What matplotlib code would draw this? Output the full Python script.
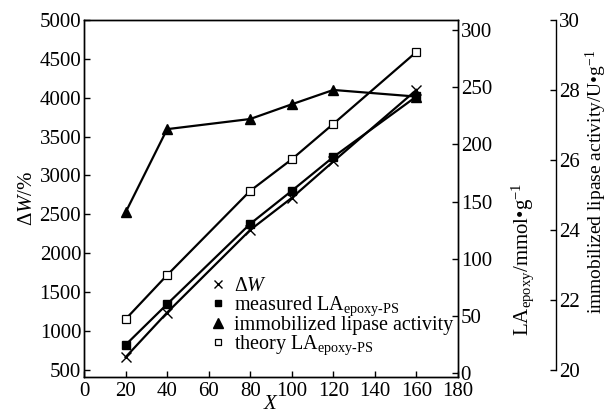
import matplotlib
matplotlib.use('Agg')
import matplotlib.pyplot as plt
from matplotlib.lines import Line2D

plt.rcParams['font.family'] = ['Liberation Serif', 'DejaVu Serif']
plt.rcParams['mathtext.fontset'] = 'custom'
plt.rcParams['mathtext.rm'] = 'Liberation Serif'
plt.rcParams['mathtext.it'] = 'Liberation Serif:italic'
plt.rcParams['xtick.direction'] = 'in'
plt.rcParams['ytick.direction'] = 'in'

# data
x = [20, 40, 80, 100, 120, 160]
delta_w = [663, 1237, 2300, 2712, 3180, 4100]          # left axis, %
la_measured = [24.5, 60.2, 130.5, 159.4, 189, 242]      # right axis, mmol/g
la_theory = [47, 85.6, 159.4, 187, 218, 281]            # right axis, mmol/g
activity = [24.5, 26.88, 27.17, 27.59, 28.0, 27.81]     # third axis, U/g

fig = plt.figure(figsize=(6.11, 4.16), dpi=100)
ax = fig.add_axes([0.1375, 0.094, 0.612, 0.858])
ax2 = ax.twinx()
ax3 = ax.twinx()

lw = 1.6
ax.plot(x, delta_w, color='black', lw=lw, marker='x', ms=7, mew=1.0)
ax2.plot(x, la_measured, color='black', lw=lw, marker='s', ms=5.5)
ax2.plot(x, la_theory, color='black', lw=lw, marker='s', ms=5.5,
         mfc='white', mew=0.9)
ax3.plot(x, activity, color='black', lw=lw, marker='^', ms=7.5)

ax.set_xlim(0, 180)
ax.set_ylim(410, 5000)
ax.set_xticks(range(0, 181, 20))
ax.set_yticks(range(500, 5001, 500))
ax2.set_ylim(-3.5, 309)
ax2.set_yticks(range(0, 301, 50))
ax3.set_ylim(19.8, 30)
ax3.set_yticks(range(20, 31, 2))

ax3.spines['right'].set_position(('axes', 1.262))
ax3.spines['right'].set_bounds(20, 30)
for a in (ax, ax2, ax3):
    for s in a.spines.values():
        s.set_linewidth(1.0)
    a.tick_params(labelsize=15, width=1.0, length=4, pad=2)
ax.tick_params(axis='x', pad=4)
ax3.spines['top'].set_visible(False)
ax3.spines['left'].set_visible(False)
ax3.spines['bottom'].set_visible(False)

ax.set_xlabel('$\\it{X}$', fontsize=15, labelpad=-5)
ax.set_ylabel('$\\Delta$$\\it{W}$/%', fontsize=15, labelpad=2)
ax2.set_ylabel('LA$_{\\mathrm{epoxy}}$/mmol\u2022g$^{-1}$', fontsize=15)
ax2.yaxis.set_label_coords(1.138, 0.33)
ax3.set_ylabel('immobilized lipase activity/U\u2022g$^{-1}$', fontsize=14)
ax3.yaxis.set_label_coords(1.336, 0.545)

handles = [
    Line2D([], [], ls='none', marker='x', color='black', ms=6, mew=1.0),
    Line2D([], [], ls='none', marker='s', color='black', ms=5),
    Line2D([], [], ls='none', marker='^', color='black', ms=6.5),
    Line2D([], [], ls='none', marker='s', color='black', ms=5, mfc='white', mew=0.9),
]
labels = [
    '$\\Delta$$\\it{W}$',
    'measured LA$_{\\mathrm{epoxy\u2010PS}}$',
    'immobilized lipase activity',
    'theory LA$_{\\mathrm{epoxy\u2010PS}}$',
]
ax.legend(handles, labels, loc='lower left', bbox_to_anchor=(0.30, 0.015),
          frameon=False, fontsize=14.5, handlelength=0.8, handletextpad=0.4,
          labelspacing=-0.07, borderpad=0.2)

fig.savefig('out.png', dpi=100)
